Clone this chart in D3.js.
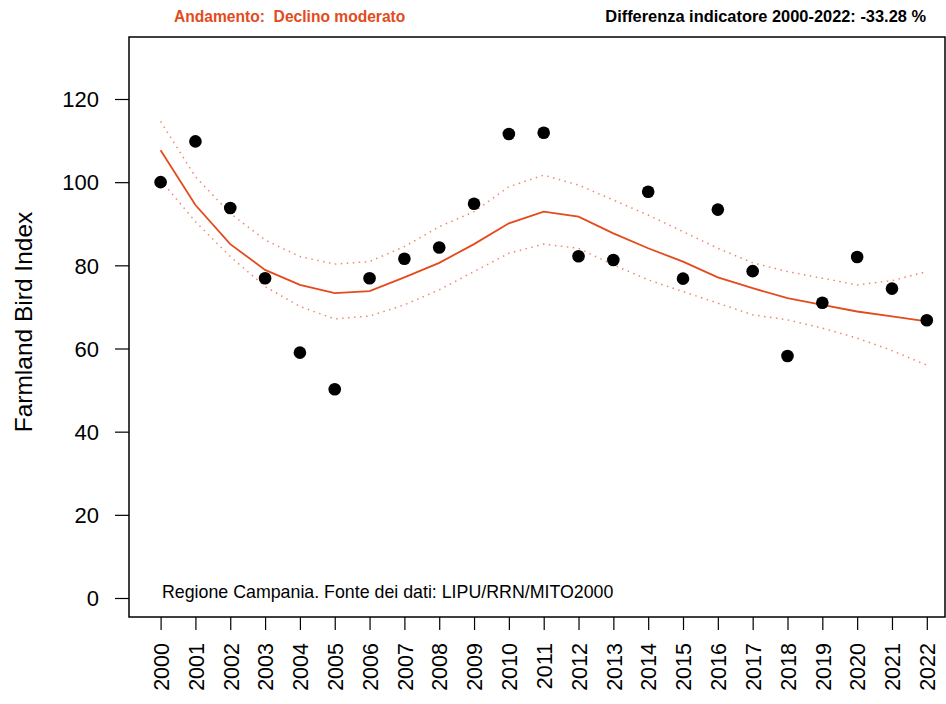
<!DOCTYPE html>
<html><head><meta charset="utf-8">
<script src="https://cdn.jsdelivr.net/npm/d3@7"></script>
<style>body{margin:0;background:#fff}svg{display:block}text{font-family:"Liberation Sans",Arial,sans-serif}</style>
</head><body><svg id="c" width="946" height="704"></svg>
<script>
const years = [2000,2001,2002,2003,2004,2005,2006,2007,2008,2009,2010,2011,2012,2013,2014,2015,2016,2017,2018,2019,2020,2021,2022];
const index = [100,109.8,93.8,76.9,59.0,50.2,76.9,81.6,84.3,94.8,111.6,111.9,82.2,81.3,97.7,76.8,93.4,78.6,58.2,71.0,82.0,74.4,66.8];
const trend = [107.7,94.5,85.1,78.9,75.3,73.3,73.8,77.1,80.6,85.1,90.1,92.9,91.7,87.7,84.1,80.9,77.1,74.5,72.1,70.5,68.9,67.7,66.5];
const upper = [114.6,101.3,92.5,86.1,82.1,80.3,80.9,84.5,89.3,92.9,98.9,101.7,99.3,95.7,92.1,88.1,84.1,80.6,78.5,76.9,75.3,76.3,78.5];
const lower = [100.5,90.5,82.1,74.9,70.1,67.1,67.8,70.5,74.1,78.5,82.9,85.1,84.1,80.1,76.5,73.7,70.9,68.1,66.9,64.9,62.5,59.5,56.0];
const yTicks = [0,20,40,60,80,100,120];

const svg = d3.select("#c");
const box = {l:129, t:37, r:945, b:617};
const x = d3.scaleLinear().domain([2000,2022]).range([160.6,926.8]);
const y = d3.scaleLinear().domain([0,120]).range([598,99]);
const orange = "#E44A1C";

// box
svg.append("rect").attr("x",box.l).attr("y",box.t).attr("width",box.r-box.l).attr("height",box.b-box.t)
  .attr("fill","none").attr("stroke","#000").attr("stroke-width",1.5);

// y axis
const ya = svg.append("g").attr("transform",`translate(${box.l-14},0)`)
  .call(d3.axisLeft(y).tickValues(yTicks).tickSize(-14).tickPadding(14).tickFormat(d3.format("d")));
ya.select(".domain").remove();
ya.selectAll(".tick line").attr("stroke","#000").attr("stroke-width",1.2).attr("x2",14).attr("x1",0);
ya.selectAll(".tick text").attr("font-size",22).attr("fill","#000").attr("x",-16).attr("dy","0.35em");

// x axis
const xa = svg.append("g").attr("transform",`translate(0,${box.b})`)
  .call(d3.axisBottom(x).tickValues(years).tickSize(13).tickFormat(d3.format("d")));
xa.select(".domain").remove();
xa.selectAll(".tick line").attr("stroke","#000").attr("stroke-width",1.2);
xa.selectAll(".tick text").attr("font-size",21.5).attr("fill","#000")
  .attr("transform","rotate(-90)").attr("text-anchor","end").attr("x",-26).attr("y",0).attr("dy","0.36em");

// y title
svg.append("text").attr("transform","translate(32,322) rotate(-90)").attr("text-anchor","middle")
  .attr("font-size",24.5).attr("fill","#000").text("Farmland Bird Index");

// lines
const line = d3.line().x((d,i)=>x(years[i])).y(d=>y(d));
svg.append("path").datum(upper).attr("d",line).attr("fill","none").attr("stroke",orange).attr("stroke-width",1.5).attr("stroke-dasharray","1.5,4.5").attr("opacity",0.65);
svg.append("path").datum(lower).attr("d",line).attr("fill","none").attr("stroke",orange).attr("stroke-width",1.5).attr("stroke-dasharray","1.5,4.5").attr("opacity",0.65);
svg.append("path").datum(trend).attr("d",line).attr("fill","none").attr("stroke",orange).attr("stroke-width",1.8);

// points
svg.append("g").selectAll("circle").data(index).join("circle")
  .attr("cx",(d,i)=>x(years[i])).attr("cy",d=>y(d)).attr("r",6.3).attr("fill","#000");

// texts
svg.append("text").attr("x",174).attr("y",22).attr("font-size",15.6).attr("font-weight","bold").attr("fill",orange)
  .attr("xml:space","preserve").style("white-space","pre").text("Andamento:  Declino moderato");
svg.append("text").attr("x",926).attr("y",22).attr("text-anchor","end").attr("font-size",16.4).attr("font-weight","bold").attr("fill","#000")
  .text("Differenza indicatore 2000-2022: -33.28 %");
svg.append("text").attr("x",162).attr("y",598).attr("font-size",17.8).attr("fill","#000")
  .text("Regione Campania. Fonte dei dati: LIPU/RRN/MITO2000");
</script></body></html>
